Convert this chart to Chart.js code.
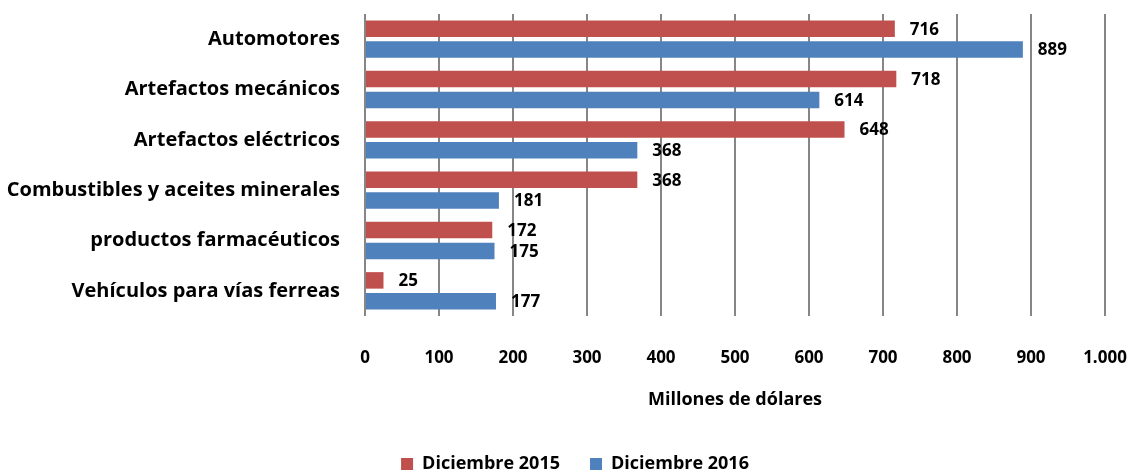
<!DOCTYPE html>
<html>
<head>
<meta charset="utf-8">
<script src="https://cdn.jsdelivr.net/npm/chart.js@4.4.0/dist/chart.umd.min.js"></script>
<style>
html,body{margin:0;padding:0;background:#fff;}
#wrap{width:1131px;height:474px;position:relative;}
</style>
</head>
<body>
<div id="wrap"><canvas id="c" width="1131" height="474"></canvas></div>
<script>
const categories = ["Automotores","Artefactos mecánicos","Artefactos eléctricos","Combustibles y aceites minerales","productos farmacéuticos","Vehículos para vías ferreas"];
const seriesNames = ["Diciembre 2015","Diciembre 2016"];
const values2015 = [716, 718, 648, 368, 172, 25];
const values2016 = [889, 614, 368, 181, 175, 177];
const xTicks = [0,100,200,300,400,500,600,700,800,900,1000];
const xTitle = "Millones de dólares";

const FONT = "'Open Sans', sans-serif";

const labelPlugin = {
  id: 'valueLabels',
  afterLayout(chart) {
    if (chart.legend) { chart.legend.left = 45; }
  },
  afterDatasetsDraw(chart) {
    const ctx = chart.ctx;
    ctx.save();
    ctx.font = "bold 17px " + FONT;
    ctx.fillStyle = "#000";
    ctx.textAlign = "left";
    ctx.textBaseline = "middle";
    chart.data.datasets.forEach((ds, di) => {
      const meta = chart.getDatasetMeta(di);
      meta.data.forEach((el, i) => {
        ctx.fillText(String(ds.data[i]), el.x + 15, el.y + 1);
      });
    });
    ctx.restore();
  }
};

new Chart(document.getElementById('c'), {
  type: 'bar',
  data: {
    labels: categories,
    datasets: [
      { label: seriesNames[0], data: values2015, backgroundColor: '#C0504D', categoryPercentage: 0.83, barPercentage: 0.79 },
      { label: seriesNames[1], data: values2016, backgroundColor: '#4F81BD', categoryPercentage: 0.83, barPercentage: 0.79 }
    ]
  },
  options: {
    indexAxis: 'y',
    responsive: false,
    animation: false,
    devicePixelRatio: 1,
    layout: { padding: { top: 14, right: 26, left: 0, bottom: -9 } },
    scales: {
      x: {
        min: 0, max: 1000,
        afterBuildTicks(scale) { scale.ticks = xTicks.map(v => ({ value: v })); },
        afterFit(scale) { scale.height = 109; scale.paddingLeft = 0; scale.paddingRight = 0; },
        grid: { color: '#868686', lineWidth: 2, drawTicks: false },
        border: { display: false },
        ticks: {
          padding: 32,
          color: '#000',
          font: { family: FONT, size: 17, weight: 'bold' },
          callback(v) { return Number(v).toLocaleString('de-DE'); }
        },
        title: {
          display: true, text: xTitle, color: '#000',
          font: { family: FONT, size: 18, weight: 'bold' },
          padding: { top: 0, bottom: 14 }
        }
      },
      y: {
        afterFit(scale) { scale.width = 365; scale.paddingTop = 0; scale.paddingBottom = 0; },
        grid: { display: false, drawTicks: false },
        border: { display: false },
        ticks: {
          padding: 25,
          color: '#000',
          font: { family: FONT, size: 20, weight: 'bold' }
        }
      }
    },
    plugins: {
      legend: {
        position: 'bottom',
        labels: {
          color: '#000',
          boxWidth: 12, boxHeight: 12,
          padding: 30,
          font: { family: FONT, size: 18, weight: 'bold' }
        }
      },
      tooltip: { enabled: false }
    }
  },
  plugins: [labelPlugin]
});
</script>
</body>
</html>
